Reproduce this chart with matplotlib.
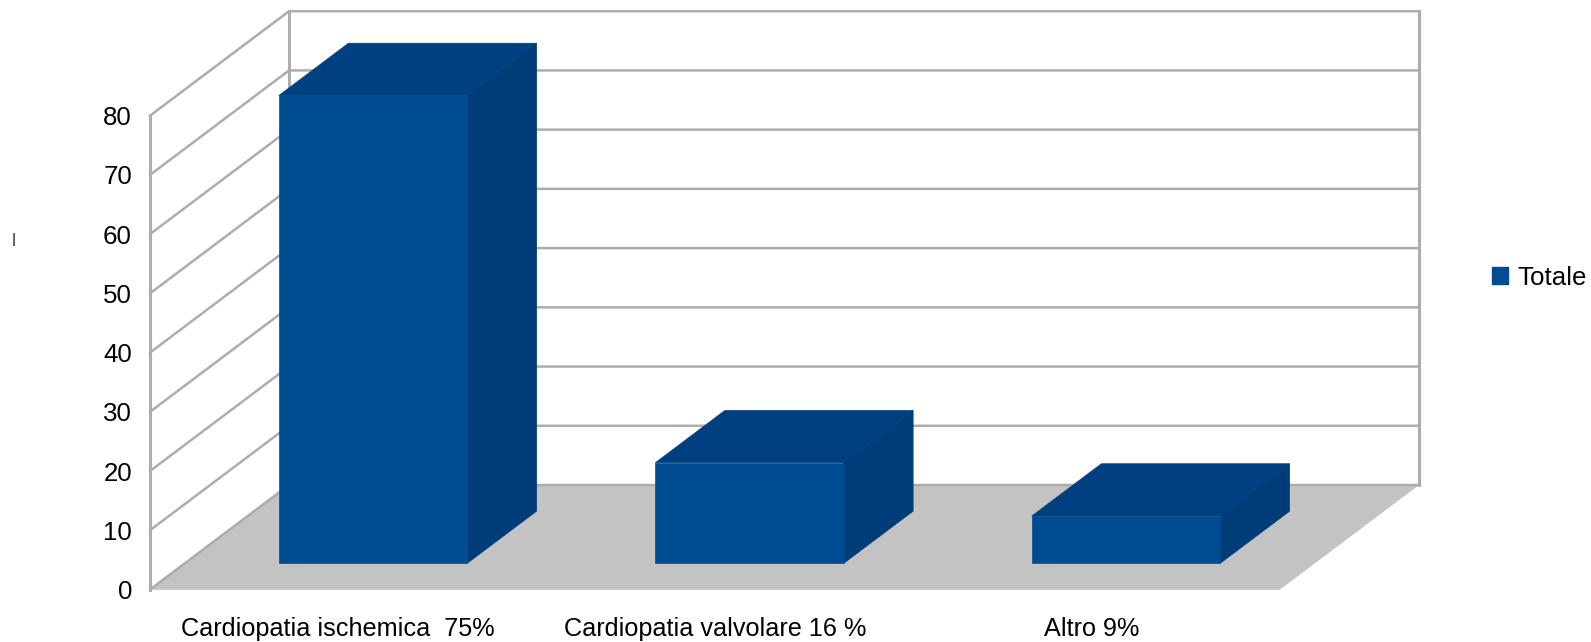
"""Pseudo-3D bar chart: causes of heart disease, spreadsheet style."""

import matplotlib

matplotlib.use("Agg")
import matplotlib.pyplot as plt
from matplotlib.patches import Patch, Polygon

plt.rcParams["font.family"] = ["Liberation Sans", "DejaVu Sans"]

categories = ["Cardiopatia ischemica  75%", "Cardiopatia valvolare 16 %", "Altro 9%"]
values = [79, 17, 8]
y_ticks = [0, 10, 20, 30, 40, 50, 60, 70, 80]
series_name = "Totale"

FRONT = "#004c92"
TOP = "#003f80"
SIDE = "#003c77"
GRID = "#adadad"
FLOOR = "#c3c3c3"
FONT = 18.65

W, H = 1591, 642
# front plane of the box in pixels
LEFT, RIGHT, BASE, TOP_PX = 150, 1279.5, 589.5, 115.7
# shift of the back wall, in data units (1 category = 376.5 px, 10 units = 59.2 px)
DX = 139 / ((RIGHT - LEFT) / len(categories))
DY = 104.5 / ((BASE - TOP_PX) / y_ticks[-1])


def proj(x, y, d):
    """Move a point back by depth d (0 = front, 1 = back wall)."""
    return (x + d * DX, y + d * DY)


def add_poly(ax, pts, color, edge=None, lw=0.5, z=1):
    ax.add_patch(Polygon(pts, closed=True, facecolor=color, edgecolor=edge or color,
                         linewidth=lw, clip_on=False, zorder=z))


def main():
    fig = plt.figure(figsize=(W / 100, H / 100), dpi=100)
    ax = fig.add_axes([LEFT / W, 1 - BASE / H, (RIGHT - LEFT) / W, (BASE - TOP_PX) / H])
    n = len(categories)
    ymax = y_ticks[-1]
    ax.set_xlim(0, n)
    ax.set_ylim(0, ymax)
    for s in ax.spines.values():
        s.set_visible(False)
    ax.patch.set_visible(False)

    # floor
    add_poly(ax, [proj(0, 0, 0), proj(n, 0, 0), proj(n, 0, 1), proj(0, 0, 1)], FLOOR, z=1)

    # side and back wall lines
    for t in y_ticks:
        a, b, c = proj(0, t, 0), proj(0, t, 1), proj(n, t, 1)
        ax.plot([a[0], b[0], c[0]], [a[1], b[1], c[1]], color=GRID, lw=1.8,
                clip_on=False, zorder=2, solid_joinstyle="miter")
    for x, d in [(0, 0), (0, 1), (n, 1)]:
        a, b = proj(x, 0, d), proj(x, ymax, d)
        ax.plot([a[0], b[0]], [a[1], b[1]], color=GRID, lw=2.2, clip_on=False, zorder=2)

    # bars sit between depth 1/4 and 3/4, half a category wide
    for i, v in enumerate(values):
        x0, x1 = i + 0.25, i + 0.75
        d0, d1 = 0.25, 0.75
        add_poly(ax, [proj(x1, 0, d0), proj(x1, 0, d1), proj(x1, v, d1), proj(x1, v, d0)],
                 SIDE, z=3)
        add_poly(ax, [proj(x0, v, d0), proj(x1, v, d0), proj(x1, v, d1), proj(x0, v, d1)],
                 TOP, z=3)
        add_poly(ax, [proj(x0, 0, d0), proj(x1, 0, d0), proj(x1, v, d0), proj(x0, v, d0)],
                 FRONT, z=4)

    ax.set_yticks(y_ticks)
    ax.set_xticks([i + 0.5 for i in range(n)])
    ax.set_xticklabels(categories)
    ax.tick_params(axis="y", length=0, pad=13, labelsize=FONT)
    ax.tick_params(axis="x", length=0, pad=20, labelsize=18.15)

    fig.legend(handles=[Patch(facecolor=FRONT, edgecolor=FRONT, label=series_name)],
               loc="center left", bbox_to_anchor=(1492 / W, 1 - 278 / H), frameon=False,
               fontsize=FONT, handlelength=0.62, handleheight=0.62, handletextpad=0.35,
               borderpad=0, borderaxespad=0)

    # stray mark left of the axis
    fig.text(13.5 / W, 1 - 241 / H, "l", fontsize=13, ha="center", va="center", color="#444444")

    fig.savefig("out.png", dpi=100)
    plt.close(fig)


if __name__ == "__main__":
    main()
